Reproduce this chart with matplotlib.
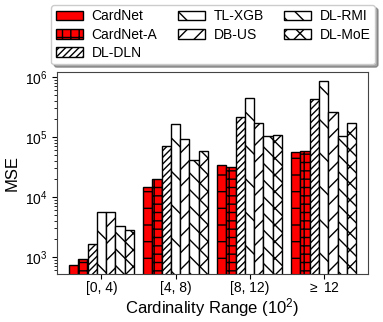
import matplotlib
matplotlib.use("Agg")
import matplotlib.pyplot as plt
import numpy as np

plt.rcParams['font.family'] = ['Liberation Sans', 'DejaVu Sans']
plt.rcParams['mathtext.fontset'] = 'custom'
plt.rcParams['mathtext.rm'] = 'Liberation Sans'
plt.rcParams['mathtext.it'] = 'Liberation Sans:italic'
plt.rcParams['hatch.linewidth'] = 1.0

categories = ['[0, 4)', '[4, 8)', '[8, 12)', r'$\geq$ 12']
methods = ['CardNet', 'CardNet-A', 'DL-DLN', 'TL-XGB', 'DB-US', 'DL-RMI', 'DL-MoE']
cardnet   = [735, 14500, 34200, 56900]
cardnet_a = [915, 19700, 32000, 58400]
dl_dln    = [1630, 71600, 215000, 425000]
tl_xgb    = [5690, 166700, 452000, 848000]
db_us     = [5690, 92600, 173000, 261000]
dl_rmi    = [3240, 41400, 104000, 104000]
dl_moe    = [2850, 59100, 108000, 173000]
series = [cardnet, cardnet_a, dl_dln, tl_xgb, db_us, dl_rmi, dl_moe]

facecolors = ['red', 'red', 'white', 'white', 'white', 'white', 'white']
hatches = ['-', '++', '/////', '\\', '//', '\\\\', 'xx']

fig = plt.figure(figsize=(3.83, 3.22), dpi=100)
ax = fig.add_axes([0.149, 0.149, 0.812, 0.627])

x = np.arange(len(categories))
w = 0.125
for i, (name, vals) in enumerate(zip(methods, series)):
    ax.bar(x + (i - 3) * w, vals, w, color=facecolors[i], edgecolor='black',
           hatch=hatches[i], linewidth=1.0, label=name)

ax.set_yscale('log')
ax.set_ylim(520, 1.21e6)
ax.set_xlim(-0.6, 3.6)
ax.set_xticks(x)
ax.set_xticklabels(categories, fontsize=10)
ax.tick_params(axis='x', pad=1.5)
ax.tick_params(axis='y', labelsize=10)
ax.set_ylabel('MSE', fontsize=12)
ax.set_xlabel(r'Cardinality Range ($10^2$)', fontsize=12, labelpad=1)
for s in ax.spines.values():
    s.set_color('#444444')

leg = ax.legend(loc='upper center', bbox_to_anchor=(0.557, 0.984),
                bbox_transform=fig.transFigure, ncol=3, fontsize=10,
                fancybox=True, shadow=True, handlelength=1.95,
                handletextpad=0.65, columnspacing=1.45, borderpad=0.3,
                labelspacing=0.32, borderaxespad=0)

fig.savefig('out.png', dpi=100)
